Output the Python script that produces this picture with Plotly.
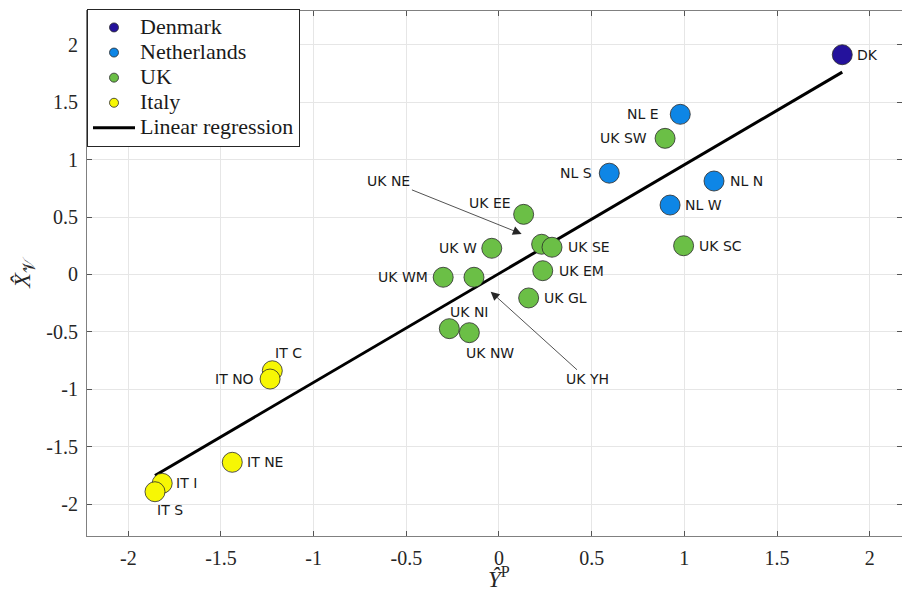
import plotly.graph_objects as go

# Regional scores: predicted score (x) vs. estimated latent score (y)
regions = ["DK",
           "NL E", "NL S", "NL N", "NL W",
           "UK SW", "UK SC", "UK EE", "UK NE", "UK SE", "UK W", "UK WM",
           "UK YH", "UK EM", "UK GL", "UK NI", "UK NW",
           "IT C", "IT NO", "IT NE", "IT I", "IT S"]
country = ["Denmark",
           "Netherlands", "Netherlands", "Netherlands", "Netherlands",
           "UK", "UK", "UK", "UK", "UK", "UK", "UK",
           "UK", "UK", "UK", "UK", "UK",
           "Italy", "Italy", "Italy", "Italy", "Italy"]
y_pred = [1.852,
          0.978, 0.595, 1.160, 0.923,
          0.896, 0.996, 0.133, 0.230, 0.286, -0.039, -0.301,
          -0.135, 0.236, 0.160, -0.268, -0.160,
          -1.223, -1.235, -1.439, -1.817, -1.856]
x_lat = [1.911,
         1.393, 0.881, 0.813, 0.604,
         1.184, 0.250, 0.523, 0.263, 0.237, 0.228, -0.024,
         -0.024, 0.033, -0.204, -0.471, -0.506,
         -0.837, -0.909, -1.633, -1.816, -1.889]

# Fitted regression line  x = intercept + slope * y
reg_slope = 0.946
reg_intercept = 0.008

countries = ["Denmark", "Netherlands", "UK", "Italy"]
colors = {"Denmark": "#24129c", "Netherlands": "#0e86e6",
          "UK": "#6bbf46", "Italy": "#f7f704"}

tick_vals = [-2, -1.5, -1, -0.5, 0, 0.5, 1, 1.5, 2]
tick_text = ["-2", "-1.5", "-1", "-0.5", "0", "0.5", "1", "1.5", "2"]

# label placement: (xanchor, xshift, yshift) in pixels
label_style = {
    "DK": ("left", 13, 0), "NL E": ("right", -19, 0), "NL S": ("right", -15, 0),
    "NL N": ("left", 14, 0), "NL W": ("left", 13, 0), "UK SW": ("right", -16, 0),
    "UK SC": ("left", 13, 0), "UK EE": ("right", -11, 11), "UK SE": ("left", 14, 0),
    "UK W": ("right", -13, 0), "UK WM": ("right", -13, 0), "UK EM": ("left", 14, 0),
    "UK GL": ("left", 13, 0), "UK NI": ("left", -1, 17), "UK NW": ("left", -5, -20.6),
    "IT C": ("left", 1, 18), "IT NO": ("right", -14, 0), "IT NE": ("left", 13, 0),
    "IT I": ("left", 12, 0), "IT S": ("left", 0, -18.3),
}
# labels connected to their point with an arrow: (tip dx, tip dy, text ax, text ay)
arrow_style = {
    "UK NE": (-20, 10.3, -132.7, -53.3),
    "UK YH": (16.7, -14.4, 96.8, 87.6),
}

fig = go.Figure()

# regression line over the range of the data
x0, x1 = min(y_pred), max(y_pred)
fig.add_trace(go.Scatter(
    x=[x0, x1], y=[reg_intercept + reg_slope * x0, reg_intercept + reg_slope * x1],
    mode="lines", line=dict(color="black", width=3), showlegend=False,
    hoverinfo="skip"))

# region markers
for c in countries:
    idx = [i for i, k in enumerate(country) if k == c]
    fig.add_trace(go.Scatter(
        x=[y_pred[i] for i in idx], y=[x_lat[i] for i in idx],
        mode="markers", text=[regions[i] for i in idx],
        marker=dict(size=20, color=colors[c], line=dict(color="#2a2a2a", width=0.8)),
        showlegend=False))

# legend entries
LEG = '<span style="font-size:22px">%s</span>'
for c in countries:
    fig.add_trace(go.Scatter(
        x=[None], y=[None], mode="markers", name=LEG % c, legendgroup=c,
        marker=dict(size=9, color=colors[c], line=dict(color="#2a2a2a", width=0.8))))
fig.add_trace(go.Scatter(
    x=[None], y=[None], mode="lines", name=LEG % "Linear regression",
    legendgroup="reg", line=dict(color="black", width=3)))

# point labels
for i, r in enumerate(regions):
    if r in arrow_style:
        dx, dy, ax, ay = arrow_style[r]
        fig.add_annotation(
            x=y_pred[i], y=x_lat[i], text=r, showarrow=True,
            xshift=dx, yshift=dy, ax=ax, ay=ay,
            arrowhead=2, arrowsize=2.2, arrowwidth=0.8, arrowcolor="#262626",
            font=dict(family="DejaVu Sans", size=14, color="#1a1a1a"))
    else:
        xa, xs, ys = label_style[r]
        fig.add_annotation(
            x=y_pred[i], y=x_lat[i], text=r, showarrow=False,
            xanchor=xa, yanchor="middle", xshift=xs, yshift=ys,
            font=dict(family="DejaVu Sans", size=14, color="#1a1a1a"))

# x-axis title, placed below the tick labels
fig.add_annotation(
    xref="paper", yref="paper", x=0.5, y=0, xshift=4, yshift=-41,
    xanchor="center", yanchor="middle", showarrow=False,
    text="<i>Ŷ</i><sup>P</sup>",
    font=dict(family="Liberation Serif", size=23, color="#262626"))

axis_common = dict(
    tickvals=tick_vals, ticktext=tick_text,
    ticks="inside", ticklen=5, tickwidth=1, tickcolor="#555555",
    showline=True, linecolor="#808080", linewidth=1, mirror="ticks",
    showgrid=True, gridcolor="#e6e6e6", gridwidth=1, zeroline=False,
    automargin=False,
    tickfont=dict(family="Liberation Serif", size=20, color="#262626"),
)

fig.update_layout(
    width=902, height=593,
    margin=dict(l=87, r=0, t=11, b=57),
    plot_bgcolor="white", paper_bgcolor="white",
    xaxis=dict(range=[-2.2228, 2.1743], ticklabelstandoff=4, **axis_common),
    yaxis=dict(range=[-2.274, 2.2913], ticklabelstandoff=4,
               title=dict(text="<i>X̂</i><sub>𝒱</sub>", standoff=8,
                          font=dict(family="Liberation Serif", size=24, color="#262626")),
               **axis_common),
    legend=dict(x=0, y=1.004, xanchor="left", yanchor="top",
                bgcolor="white", bordercolor="#262626", borderwidth=1,
                font=dict(family="Liberation Serif", size=17, color="#1a1a1a"),
                itemwidth=42, tracegroupgap=0, traceorder="normal"),
    showlegend=True,
)

fig.write_html("out.html")
